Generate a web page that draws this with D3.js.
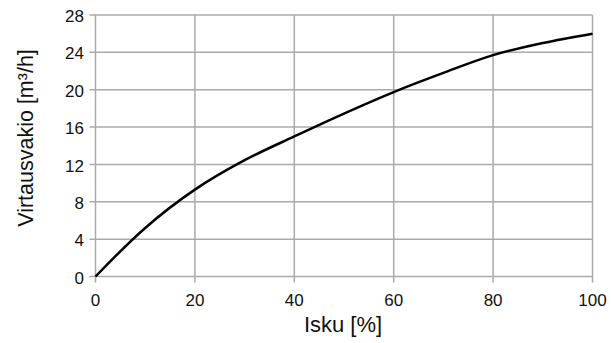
<!DOCTYPE html>
<html><head><meta charset="utf-8">
<script src="https://cdn.jsdelivr.net/npm/d3@7"></script>
<style>body{margin:0;background:#fff}svg{display:block}text{font-family:"Liberation Sans",Arial,sans-serif;fill:#111}</style>
</head><body><svg id="c" width="611" height="343"></svg>
<script>
const strokePct = [0,10,20,30,40,50,60,70,80,90,100];
const kvValues = [0,5.2,9.3,12.45,15.0,17.45,19.75,21.8,23.7,25.0,26.0];
const xTicks = [0,20,40,60,80,100];
const yTicks = [0,4,8,12,16,20,24,28];
const xTitle = "Isku [%]";
const yTitle = "Virtausvakio [m³/h]";

const svg = d3.select("#c");
const L=95.5, R=592.5, T=15, B=276.5;
const x = d3.scaleLinear().domain([0,100]).range([L,R]);
const y = d3.scaleLinear().domain([0,28]).range([B,T]);

const grid = svg.append("g").attr("stroke","#aaaaaa").attr("stroke-width",1.5);
grid.selectAll("line.h").data(yTicks).join("line").attr("class","h")
  .attr("x1",L-6).attr("x2",R).attr("y1",d=>y(d)).attr("y2",d=>y(d));
grid.selectAll("line.v").data(xTicks).join("line").attr("class","v")
  .attr("x1",d=>x(d)).attr("x2",d=>x(d)).attr("y1",T).attr("y2",B+6);

svg.selectAll("text.yt").data(yTicks).join("text").attr("class","yt")
  .attr("x",L-11.5).attr("y",d=>y(d)+1).attr("dy","0.36em").attr("text-anchor","end")
  .attr("font-size",17).text(d=>d);
svg.selectAll("text.xt").data(xTicks).join("text").attr("class","xt")
  .attr("x",d=>x(d)).attr("y",B+29).attr("text-anchor","middle")
  .attr("font-size",17).text(d=>d);

const line = d3.line().x((d,i)=>x(strokePct[i])).y(d=>y(d)).curve(d3.curveCatmullRom.alpha(0.5));
svg.append("path").datum(kvValues).attr("d",line).attr("fill","none")
  .attr("stroke","#000").attr("stroke-width",2.5);

svg.append("text").attr("x",343).attr("y",332).attr("text-anchor","middle")
  .attr("font-size",22).text(xTitle);
svg.append("text").attr("transform",`translate(32.5,138) rotate(-90)`)
  .attr("text-anchor","middle").attr("font-size",21.5).text(yTitle);
</script></body></html>
